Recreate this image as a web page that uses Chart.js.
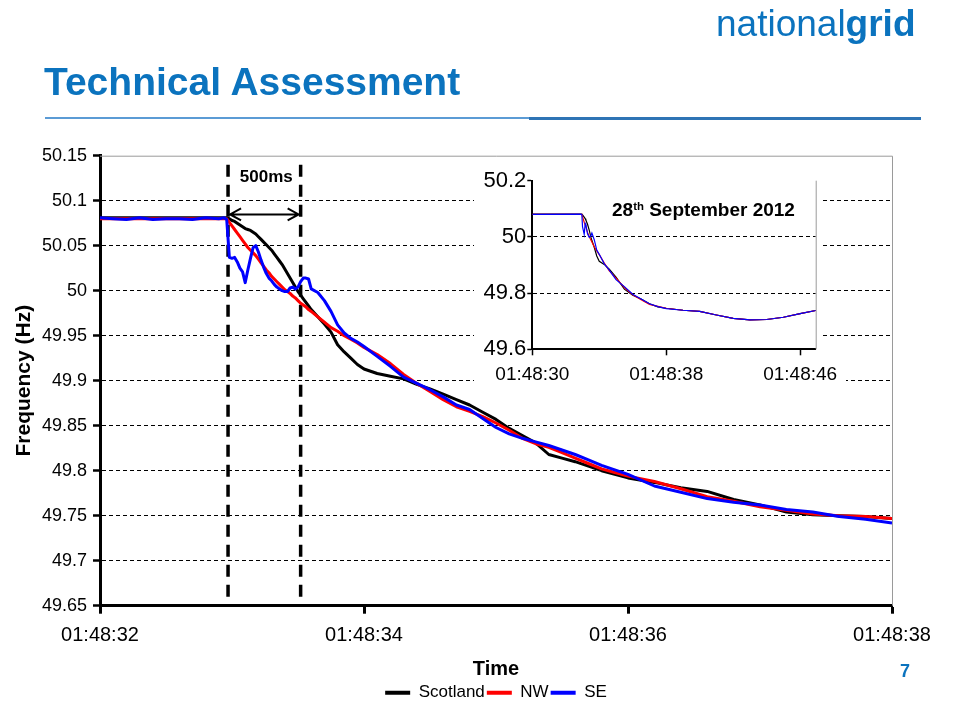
<!DOCTYPE html>
<html>
<head>
<meta charset="utf-8">
<script src="https://cdn.jsdelivr.net/npm/chart.js@4.4.1/dist/chart.umd.min.js"></script>
<style>
  body { margin: 0; background: #fff; font-family: "Liberation Sans", Arial, sans-serif; }
  #page { position: relative; width: 963px; height: 717px; overflow: hidden; background: #fff; }
  canvas { position: absolute; }
  #main { left: 0; top: 0; }
  #inset { left: 470px; top: 165px; }
  .txt { position: absolute; white-space: nowrap; line-height: 1; }
  #logo { left: 716px; top: 5px; font-size: 37px; color: #0b73be; }
  #logo b { font-weight: bold; }
  #title { left: 44px; top: 62px; font-size: 39px; font-weight: bold; color: #0b73be; }
  #ruleLeft { position: absolute; left: 45px; top: 117px; width: 485px; height: 2px; background: #5b9bd5; }
  #ruleRight { position: absolute; left: 529px; top: 117px; width: 392px; height: 2.5px; background: #2e74b5; }
  #pageNo { left: 900px; top: 662px; font-size: 18px; font-weight: bold; color: #0b73be; }
  #insetTitle { left: 612px; top: 200px; font-size: 19px; font-weight: bold; color: #000; z-index: 3; }
  #insetTitle sup { font-size: 0.6em; vertical-align: baseline; position: relative; top: -0.55em; }
</style>
</head>
<body>
<div id="page">
  <canvas id="main" width="963" height="717"></canvas>
  <canvas id="inset" width="380" height="235"></canvas>
  <div id="logo" class="txt">national<b>grid</b></div>
  <div id="title" class="txt">Technical Assessment</div>
  <div id="ruleLeft"></div>
  <div id="ruleRight"></div>
  <div id="pageNo" class="txt">7</div>
  <div id="insetTitle" class="txt">28<sup>th</sup> September 2012</div>
</div>
<script>
// main chart: seconds past 01:48:00
const mainTimes = [
  32.0, 32.1, 32.2, 32.3, 32.4, 32.5, 32.6, 32.7, 32.8, 32.9, 32.94,
  32.96, 32.98, 33.00, 33.02, 33.04, 33.06, 33.08, 33.10, 33.12, 33.14,
  33.16, 33.18, 33.20, 33.22, 33.24, 33.26, 33.28, 33.30, 33.32, 33.34,
  33.36, 33.38, 33.40, 33.42, 33.44, 33.46, 33.48, 33.50, 33.52, 33.54,
  33.56, 33.58, 33.60,
  33.65, 33.70, 33.75, 33.80, 33.85, 33.90, 33.95, 34.00,
  34.1, 34.2, 34.3, 34.4, 34.5, 34.6, 34.7, 34.8, 34.9, 35.0,
  35.1, 35.2, 35.3, 35.4, 35.5, 35.6, 35.7, 35.8, 35.9, 36.0,
  36.2, 36.4, 36.6, 36.8, 37.0, 37.2, 37.4, 37.6, 37.8, 38.0
];

const scotland = [
  50.081, 50.081, 50.081, 50.081, 50.081, 50.081, 50.081, 50.081, 50.081, 50.081, 50.081,
  50.081, 50.080, 50.078, 50.077, 50.075, 50.073, 50.071, 50.069, 50.068, 50.067,
  50.065, 50.063, 50.060, 50.057, 50.054, 50.051, 50.048, 50.045, 50.041, 50.037,
  50.033, 50.029, 50.024, 50.019, 50.014, 50.009, 50.004, 49.999, 49.995, 49.991,
  49.987, 49.983, 49.979,
  49.971, 49.963, 49.954, 49.940, 49.932, 49.925, 49.918, 49.913,
  49.908, 49.905, 49.902, 49.896, 49.891, 49.885, 49.879, 49.873, 49.865, 49.857,
  49.847, 49.839, 49.831, 49.818, 49.814, 49.810, 49.805, 49.800, 49.796, 49.792,
  49.787, 49.781, 49.777, 49.768, 49.762, 49.754, 49.751, 49.750, 49.749, 49.747
];

const northWest = [
  50.080, 50.080, 50.080, 50.080, 50.080, 50.080, 50.080, 50.080, 50.080, 50.080, 50.080,
  50.080, 50.076, 50.072, 50.068, 50.064, 50.060, 50.056, 50.052, 50.048, 50.045,
  50.042, 50.039, 50.035, 50.031, 50.027, 50.023, 50.020, 50.016, 50.013, 50.010,
  50.007, 50.004, 50.001, 49.999, 49.997, 49.994, 49.992, 49.989, 49.986, 49.984,
  49.982, 49.979, 49.977,
  49.971, 49.965, 49.959, 49.955, 49.950, 49.946, 49.942, 49.937,
  49.929, 49.919, 49.907, 49.897, 49.888, 49.879, 49.871, 49.866, 49.860, 49.853,
  49.845, 49.836, 49.830, 49.826, 49.820, 49.814, 49.808, 49.802, 49.798, 49.794,
  49.788, 49.780, 49.771, 49.766, 49.760, 49.756, 49.752, 49.750, 49.749, 49.747
];

const southEast = [
  50.081, 50.080, 50.079, 50.081, 50.079, 50.080, 50.080, 50.079, 50.081, 50.080, 50.081,
  50.079, 50.037, 50.036, 50.037, 50.032, 50.025, 50.021, 50.009, 50.023, 50.036,
  50.048, 50.050, 50.043, 50.034, 50.026, 50.019, 50.014, 50.011, 50.007, 50.004,
  50.002, 50.000, 49.999, 49.999, 50.003, 50.004, 50.002, 50.004, 50.010, 50.014,
  50.014, 50.013, 50.002,
  49.998, 49.989, 49.977, 49.962, 49.953, 49.947, 49.943, 49.938,
  49.927, 49.916, 49.904, 49.897, 49.890, 49.882, 49.873, 49.868, 49.858, 49.848,
  49.841, 49.836, 49.832, 49.828, 49.823, 49.818, 49.812, 49.806, 49.801, 49.796,
  49.783, 49.776, 49.769, 49.765, 49.762, 49.757, 49.754, 49.749, 49.746, 49.742
];

const xTickValues = [32, 34, 36, 38];
const xTickLabels = ["01:48:32", "01:48:34", "01:48:36", "01:48:38"];
const yTickValues = [49.65, 49.7, 49.75, 49.8, 49.85, 49.9, 49.95, 50, 50.05, 50.1, 50.15];
const yTickLabels = ["49.65", "49.7", "49.75", "49.8", "49.85", "49.9", "49.95", "50", "50.05", "50.1", "50.15"];

// the 500ms window
const markerTimes = [32.97, 33.52];
const markerTop = 50.14;
const markerBottom = 49.656;
const arrowLevel = 50.0847;
const markerLabelLevel = 50.126;

// inset: whole event
const insetTimes = [30, 32.9, 32.96, 33.0, 33.1, 33.16, 33.2, 33.3, 33.4, 33.5, 33.56, 33.7, 33.85, 34.0,
  34.3, 34.6, 35.0, 35.5, 36.0, 36.5, 37.0, 37.5, 38.0, 39.0, 40.0, 41.0, 42.0, 43.0, 44.0, 45.0, 46.0, 46.93];
const insetScotland = [50.081, 50.081, 50.081, 50.078, 50.070, 50.065, 50.060, 50.045, 50.024, 49.999,
  49.987, 49.963, 49.932, 49.913, 49.902, 49.885, 49.857, 49.814, 49.792, 49.779,
  49.762, 49.751, 49.746, 49.739, 49.735, 49.722, 49.710, 49.705, 49.706, 49.714, 49.727, 49.738];
const insetNorthWest = [50.080, 50.080, 50.080, 50.072, 50.052, 50.042, 50.035, 50.016, 50.001, 49.989,
  49.982, 49.965, 49.950, 49.937, 49.907, 49.879, 49.853, 49.820, 49.794, 49.776,
  49.760, 49.753, 49.746, 49.739, 49.735, 49.722, 49.710, 49.705, 49.706, 49.714, 49.727, 49.738];
const insetSouthEast = [50.080, 50.081, 50.079, 50.036, 50.009, 50.048, 50.043, 50.011, 49.999, 50.004,
  50.014, 49.990, 49.953, 49.938, 49.904, 49.882, 49.848, 49.823, 49.796, 49.779,
  49.762, 49.752, 49.745, 49.739, 49.735, 49.722, 49.710, 49.705, 49.706, 49.714, 49.727, 49.738];
const insetXTickValues = [30, 38, 46];
const insetXTickLabels = ["01:48:30", "01:48:38", "01:48:46"];
const insetYTickValues = [49.6, 49.8, 50, 50.2];
const insetYTickLabels = ["49.6", "49.8", "50", "50.2"];
const insetGridValues = [49.8, 50];

Chart.defaults.font.family = '"Liberation Sans", Arial, sans-serif';
Chart.defaults.color = "#000";

const toPoints = (times, values) => times.map((t, i) => ({ x: t, y: values[i] }));

const frameAndMarkers = {
    id: "frameAndMarkers",
    beforeDatasetsDraw(chart) {
        const { ctx, chartArea, scales } = chart;
        ctx.save();
        ctx.strokeStyle = "#9a9a9a";
        ctx.lineWidth = 1;
        ctx.beginPath();
        ctx.moveTo(chartArea.left, chartArea.top + 0.5);
        ctx.lineTo(chartArea.right + 0.5, chartArea.top + 0.5);
        ctx.lineTo(chartArea.right + 0.5, chartArea.bottom);
        ctx.stroke();

        ctx.strokeStyle = "#000";
        ctx.lineWidth = 3.5;
        ctx.setLineDash([12, 8]);
        markerTimes.forEach((t) => {
            const px = scales.x.getPixelForValue(t);
            ctx.beginPath();
            ctx.moveTo(px, scales.y.getPixelForValue(markerTop));
            ctx.lineTo(px, scales.y.getPixelForValue(markerBottom));
            ctx.stroke();
        });
        ctx.restore();
    },
    afterDatasetsDraw(chart) {
        const { ctx, scales } = chart;
        const x0 = scales.x.getPixelForValue(markerTimes[0]) + 2;
        const x1 = scales.x.getPixelForValue(markerTimes[1]) - 2;
        const ay = scales.y.getPixelForValue(arrowLevel);
        ctx.save();
        ctx.strokeStyle = "#000";
        ctx.lineWidth = 2;
        ctx.beginPath();
        ctx.moveTo(x0, ay);
        ctx.lineTo(x1, ay);
        ctx.moveTo(x0 + 11, ay - 6);
        ctx.lineTo(x0, ay);
        ctx.lineTo(x0 + 11, ay + 6);
        ctx.moveTo(x1 - 11, ay - 6);
        ctx.lineTo(x1, ay);
        ctx.lineTo(x1 - 11, ay + 6);
        ctx.stroke();

        ctx.fillStyle = "#000";
        ctx.font = 'bold 17px "Liberation Sans", Arial, sans-serif';
        ctx.textAlign = "center";
        ctx.textBaseline = "middle";
        ctx.fillText("500ms", (x0 + x1) / 2 + 2, scales.y.getPixelForValue(markerLabelLevel));
        ctx.restore();
    },
};

const mainContext = document.getElementById("main");

const mainData = {
    datasets: [
        { label: "Scotland", data: toPoints(mainTimes, scotland), borderColor: "#000000", backgroundColor: "#000000", order: 3 },
        { label: "NW", data: toPoints(mainTimes, northWest), borderColor: "#ff0000", backgroundColor: "#ff0000", order: 2 },
        { label: "SE", data: toPoints(mainTimes, southEast), borderColor: "#0000ff", backgroundColor: "#0000ff", order: 1 },
    ],
};

const mainConfig = {
    type: "line",
    data: mainData,
    options: {
        responsive: false,
        animation: false,
        layout: { padding: { left: 0, top: 155.7, right: 71, bottom: 5.7 } },
        elements: {
            line: { borderWidth: 3, tension: 0, borderJoinStyle: "round" },
            point: { radius: 0 },
        },
        scales: {
            x: {
                type: "linear",
                min: 32,
                max: 38,
                afterFit: (scale) => { scale.height = 76.6; },
                afterBuildTicks: (scale) => { scale.ticks = xTickValues.map((v) => ({ value: v })); },
                ticks: {
                    callback: (value, index) => xTickLabels[index],
                    font: { size: 20 },
                    color: "#000",
                    padding: 10,
                    maxRotation: 0,
                    autoSkip: false,
                },
                grid: { drawOnChartArea: false, color: "#000", tickColor: "#000", tickLength: 8, tickWidth: 3 },
                border: { color: "#000", width: 3 },
                title: { display: true, text: "Time", font: { size: 20, weight: "bold" }, color: "#000", padding: { top: 0, bottom: 0.6 } },
            },
            y: {
                min: 49.65,
                max: 50.15,
                afterFit: (scale) => { scale.width = 100; },
                afterBuildTicks: (scale) => { scale.ticks = yTickValues.map((v) => ({ value: v })); },
                ticks: {
                    callback: (value, index) => yTickLabels[index],
                    font: { size: 18 },
                    color: "#000",
                    padding: 6,
                    autoSkip: false,
                },
                grid: {
                    color: (ctx) => (ctx.tick && ctx.tick.value === 50.15 ? "rgba(0,0,0,0)" : "#000"),
                    lineWidth: 1,
                    tickColor: "#000",
                    tickLength: 7,
                    tickWidth: 2.5,
                },
                border: { color: "#000", width: 3, dash: [4, 3] },
                title: { display: true, text: "Frequency (Hz)", font: { size: 21, weight: "bold" }, color: "#000", padding: { top: 12, bottom: 0 } },
            },
        },
        plugins: {
            legend: {
                position: "bottom",
                fullSize: false,
                labels: {
                    usePointStyle: true,
                    pointStyleWidth: 25,
                    padding: 2,
                    font: { size: 17 },
                    color: "#000",
                    generateLabels: (chart) =>
                        Chart.defaults.plugins.legend.labels.generateLabels(chart).map((item) => ({
                            ...item,
                            pointStyle: "line",
                            lineWidth: 4,
                        })),
                    sort: (a, b) => a.datasetIndex - b.datasetIndex,
                },
            },
            tooltip: { enabled: false },
        },
    },
    plugins: [frameAndMarkers],
};

const mainChart = new Chart(mainContext, mainConfig);

const insetFrame = {
    id: "insetFrame",
    beforeDraw(chart) {
        const { ctx } = chart;
        ctx.save();
        ctx.fillStyle = "#fff";
        ctx.fillRect(4, 3, 348, 225);
        ctx.fillRect(4, 195, 372, 33);
        ctx.restore();
    },
    beforeDatasetsDraw(chart) {
        const { ctx, chartArea } = chart;
        ctx.save();
        ctx.strokeStyle = "#9a9a9a";
        ctx.lineWidth = 1;
        ctx.beginPath();
        ctx.moveTo(chartArea.right + 0.5, chartArea.top);
        ctx.lineTo(chartArea.right + 0.5, chartArea.bottom);
        ctx.stroke();
        ctx.restore();
    },
};

const insetContext = document.getElementById("inset");

const insetConfig = {
    type: "line",
    data: {
        datasets: [
            { label: "Scotland", data: toPoints(insetTimes, insetScotland), borderColor: "#000000", order: 3 },
            { label: "NW", data: toPoints(insetTimes, insetNorthWest), borderColor: "#ff0000", order: 2 },
            { label: "SE", data: toPoints(insetTimes, insetSouthEast), borderColor: "#0000ff", order: 1 },
        ],
    },
    options: {
        responsive: false,
        animation: false,
        layout: { padding: { left: 0, top: 15.7, right: 34.3, bottom: 0 } },
        elements: {
            line: { borderWidth: 1.2, tension: 0 },
            point: { radius: 0 },
        },
        scales: {
            x: {
                type: "linear",
                min: 30,
                max: 46.93,
                afterFit: (scale) => { scale.height = 50.7; },
                afterBuildTicks: (scale) => { scale.ticks = insetXTickValues.map((v) => ({ value: v })); },
                ticks: {
                    callback: (value, index) => insetXTickLabels[index],
                    font: { size: 19 },
                    color: "#000",
                    padding: 8,
                    maxRotation: 0,
                    autoSkip: false,
                },
                grid: { drawOnChartArea: false, color: "#000", tickColor: "#000", tickLength: 6, tickWidth: 1.5 },
                border: { color: "#000", width: 2 },
            },
            y: {
                min: 49.6,
                max: 50.2,
                afterFit: (scale) => { scale.width = 62.3; },
                afterBuildTicks: (scale) => { scale.ticks = insetYTickValues.map((v) => ({ value: v })); },
                ticks: {
                    callback: (value, index) => insetYTickLabels[index],
                    font: { size: 22 },
                    color: "#000",
                    padding: 1,
                    autoSkip: false,
                },
                grid: {
                    color: (ctx) => (ctx.tick && insetGridValues.includes(ctx.tick.value) ? "#000" : "rgba(0,0,0,0)"),
                    lineWidth: 1,
                    tickColor: "#000",
                    tickLength: 5,
                    tickWidth: 1.5,
                },
                border: { color: "#000", width: 2, dash: [4, 3] },
            },
        },
        plugins: {
            legend: { display: false },
            tooltip: { enabled: false },
        },
    },
    plugins: [insetFrame],
};

const insetChart = new Chart(insetContext, insetConfig);
</script>
</body>
</html>
